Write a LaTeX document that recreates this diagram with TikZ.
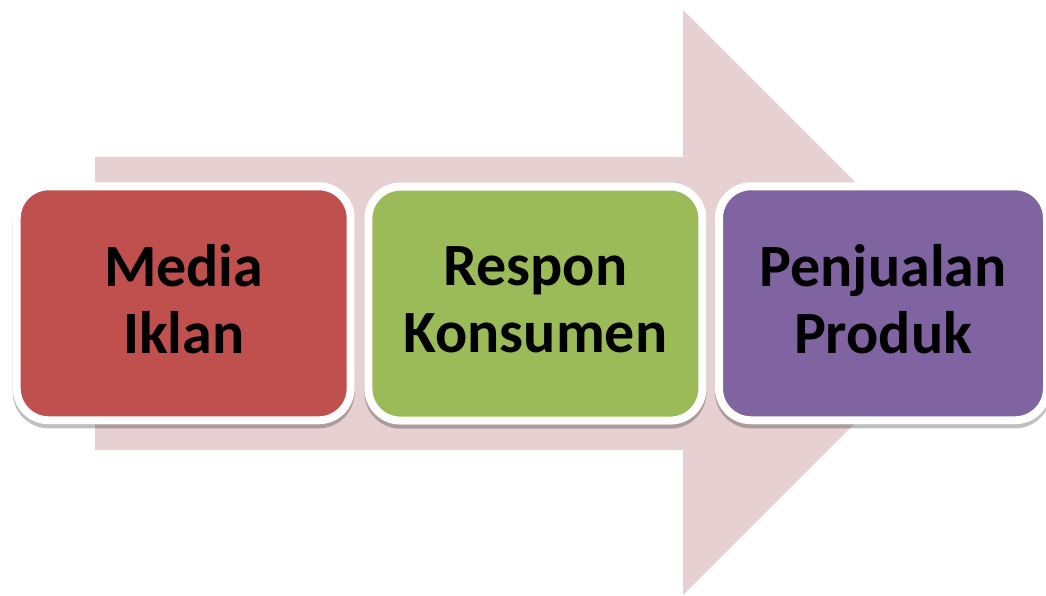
\documentclass[tikz,border=0pt]{standalone}
\usepackage{fontspec}
\setmainfont{Carlito}
\usetikzlibrary{shadows}
\definecolor{arrowpink}{RGB}{231,208,209}
\definecolor{mediared}{RGB}{192,80,77}
\definecolor{responsegreen}{RGB}{155,187,89}
\definecolor{salespurple}{RGB}{128,100,162}

\begin{document}
\begin{tikzpicture}[x=10pt,y=10pt]
        \tikzstyle{every node}+=[inner sep=0pt]
        \tikzstyle{stage}=[draw=white, line width=8pt, rounded corners=32pt,
            minimum width=334pt, minimum height=234pt, align=center, text depth=8pt,
            font=\bfseries\fontsize{60}{67}\selectfont,
            drop shadow={shadow xshift=0pt, shadow yshift=-4pt, opacity=0.25,
                fill=black, draw=black, line width=8pt}]
        \useasboundingbox (0,0) rectangle (104.6,-59.6);
        % big arrow behind the stages
        \fill [arrowpink] (9.5,-15.7) -- (68.3,-15.7) -- (68.3,-1.0) -- (97.55,-30.25)
            -- (68.3,-59.5) -- (68.3,-45.0) -- (9.5,-45.0) -- cycle;
        \node [stage, fill=mediared] (media) at (18.37,-30.33) {Media\\Iklan};
        \node [stage, fill=responsegreen] (respon) at (53.54,-30.36) {Respon\\Konsumen};
        \node [stage, fill=salespurple, minimum width=328pt] (penjualan) at (88.3,-30.33) {Penjualan\\Produk};
    \end{tikzpicture}
\end{document}
